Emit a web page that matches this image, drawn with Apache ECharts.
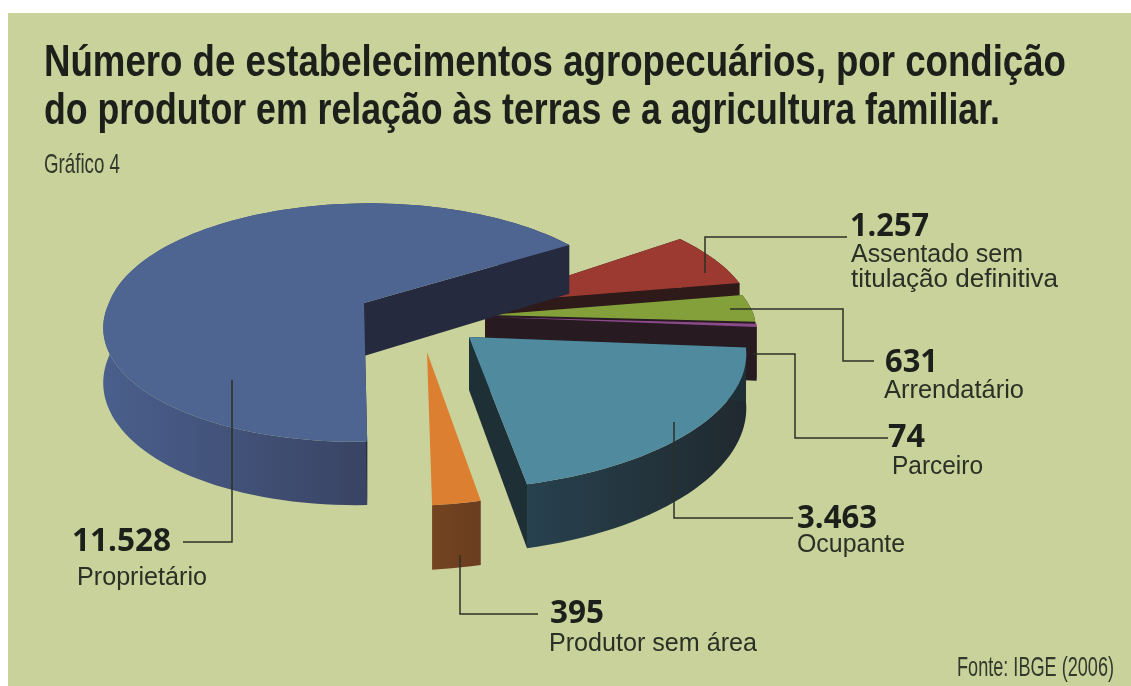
<!DOCTYPE html>
<html><head><meta charset="utf-8">
<style>html,body{margin:0;padding:0;background:#fff}#c{width:1131px;height:686px}</style>
<script src="https://cdn.jsdelivr.net/npm/echarts@6/dist/echarts.min.js"></script>
</head><body><div id="c"></div>
<script>
// ---- data ----
const categories = ['Assentado sem titulação definitiva','Arrendatário','Parceiro','Ocupante','Produtor sem área','Proprietário'];
const values = [1257, 631, 74, 3463, 395, 11528];
const valueLabels = ['1.257','631','74','3.463','395','11.528'];
const titleLines = ['Número de estabelecimentos agropecuários, por condição','do produtor em relação às terras e a agricultura familiar.'];
const subtitle = 'Gráfico 4';
const source = 'Fonte: IBGE (2006)';

// ---- drawing layout ----
const pieCenter = [364, 303];
const explodeX = [121, 124, 126, 105, 63, 0];
const explodeY = [0, 12, 14, 34, 49, 0];
const radiusScale = [1.03, 1.03, 1.03, 1.08, 1.09, 1.0];
const angleShift = [0, 0, 0, 0, 0, -3];
const rimShift = [-2, -2, -3, -6, -11, 5];
const showCut = [true, true, true, true, false, true];
const topColors = ['#9c3a32','#84a03a','#8b4a8a','#4f8a9f','#dd7f30','#4e6491'];
const cutColors = ['#2e1a18','#271a20','#271a20','#1f2f36','#6f4020','#252a3e'];
const wallFrom = ['#2e1a18','#271a20','#271a20','#27414e','#74441f','#4a5f8c'];
const wallTo = ['#2e1a18','#271a20','#271a20','#20292f','#6a3d20','#2d2f45'];
const startAngle = 36, persp = 6.1, radiusX = 260, radiusY = 116, shear = -0.1, depth = 53;

const total = values.reduce((a, b) => a + b, 0);
function project(i, aDeg, r) {
  const a = aDeg * Math.PI / 180, X = r * Math.cos(a), Z = -r * Math.sin(a);
  const k = persp / (persp - Z);
  const y = Z * radiusY * k;
  const sx = r > 0 ? rimShift[i] : 0;
  return { x: X * radiusX * k + shear * Math.max(y, 0) + sx + pieCenter[0] + explodeX[i], y: y + pieCenter[1] + explodeY[i], k };
}
function renderSlice(params, api) {
  const i = params.dataIndex;
  let before = 0;
  for (let j = 0; j < i; j++) before += values[j];
  const a0 = startAngle - before / total * 360 + angleShift[i];
  const a1 = a0 - api.value(1) / total * 360;
  const steps = Math.max(3, Math.ceil((a0 - a1) / 2));
  const rim = [];
  for (let s = 0; s <= steps; s++) rim.push(project(i, a0 + (a1 - a0) * s / steps, radiusScale[i]));
  const apex = project(i, 0, 0);
  const C = p => api.coord([p[0], p[1]]);
  const up = p => C([p.x, p.y]);
  const down = p => C([p.x, p.y + depth * p.k]);
  const poly = (pts, fill) => ({ type: 'polygon', shape: { points: pts }, style: { fill: fill, stroke: null } });
  const first = rim[0], last = rim[rim.length - 1];
  const grad = new echarts.graphic.LinearGradient(0, 0, 1, 0, [{ offset: 0, color: wallFrom[i] }, { offset: 1, color: wallTo[i] }]);
  const children = [poly(rim.map(up).concat(rim.slice().reverse().map(down)), grad)];
  if (showCut[i]) {
    children.push(poly([up(apex), up(first), down(first), down(apex)], cutColors[i]));
    children.push(poly([up(apex), up(last), down(last), down(apex)], cutColors[i]));
  }
  children.push(poly([up(apex)].concat(rim.map(up)), topColors[i]));
  return { type: 'group', children };
}

// ---- text + leader helpers ----
const measureCtx = document.createElement('canvas').getContext('2d');
function text(str, x, baseline, weight, size, family, targetWidth, fill) {
  const font = weight + ' ' + size + 'px ' + family;
  measureCtx.font = font;
  const w = measureCtx.measureText(str).width;
  const style = { text: str, font: font, fill: fill, align: 'left', verticalAlign: 'top' };
  return { type: 'text', x: x, y: baseline - size * 0.78, scaleX: targetWidth / w, z: 20, silent: true, style: style };
}
const leader = pts => ({ type: 'polyline', z: 19, silent: true, shape: { points: pts }, style: { stroke: '#2b3026', lineWidth: 1.5, fill: null } });
const NARROW = '"Liberation Sans Narrow","Liberation Sans"';
const OPEN = '"Open Sans"', LIB = '"Liberation Sans"';
const DARK = '#1c1f1a', SOFT = '#2b3026', THIN = '#33382c';
const num = (s, x, y, w) => text(s, x, y, 'bold', 33, OPEN, w, DARK);
const lab = (s, x, y, w) => text(s, x, y, 'normal', 25, LIB, w, SOFT);
const graphics = [
  { type: 'rect', z: -1, silent: true, shape: { x: 8, y: 13, width: 1123, height: 673 }, style: { fill: '#c8d29a' } },
  text(titleLines[0], 44, 76, 'bold', 45, NARROW, 1022, DARK),
  text(titleLines[1], 44, 124, 'bold', 45, NARROW, 956, DARK),
  text(subtitle, 44, 173, 'normal', 28, NARROW, 76, THIN),
  text(source, 957, 676, 'normal', 28, NARROW, 157, THIN),
  num(valueLabels[5], 72, 551, 99),
  lab(categories[5], 77, 585, 130),
  num(valueLabels[0], 850, 236, 79),
  lab('Assentado sem', 851, 262, 172),
  lab('titulação definitiva', 851, 287, 207),
  num(valueLabels[1], 885, 372, 53),
  lab(categories[1], 884, 398, 140),
  num(valueLabels[2], 888, 447, 37),
  lab(categories[2], 892, 474, 91),
  num(valueLabels[3], 797, 528, 80),
  lab(categories[3], 797, 552, 108),
  num(valueLabels[4], 550, 623, 54),
  lab(categories[4], 549, 651, 208),
  leader([[183, 542], [232, 542], [232, 380]]),
  leader([[705, 273], [705, 237], [847, 237]]),
  leader([[730, 309], [843, 309], [843, 361], [874, 361]]),
  leader([[753, 354], [795, 354], [795, 438], [888, 438]]),
  leader([[674, 422], [674, 518], [793, 518]]),
  leader([[460, 555], [460, 614], [538, 614]])
];

const chart = echarts.init(document.getElementById('c'), null, { renderer: 'canvas' });
chart.setOption({
  animation: false,
  backgroundColor: '#ffffff',
  grid: { left: 0, right: 0, top: 0, bottom: 0 },
  xAxis: { type: 'value', min: 0, max: 1131, show: false },
  yAxis: { type: 'value', min: 0, max: 686, inverse: true, show: false },
  graphic: graphics,
  series: [{
    type: 'custom',
    coordinateSystem: 'cartesian2d',
    clip: false,
    silent: true,
    renderItem: renderSlice,
    encode: { x: 0, y: 1 },
    data: values.map((v, i) => [i, v])
  }]
});
</script></body></html>
